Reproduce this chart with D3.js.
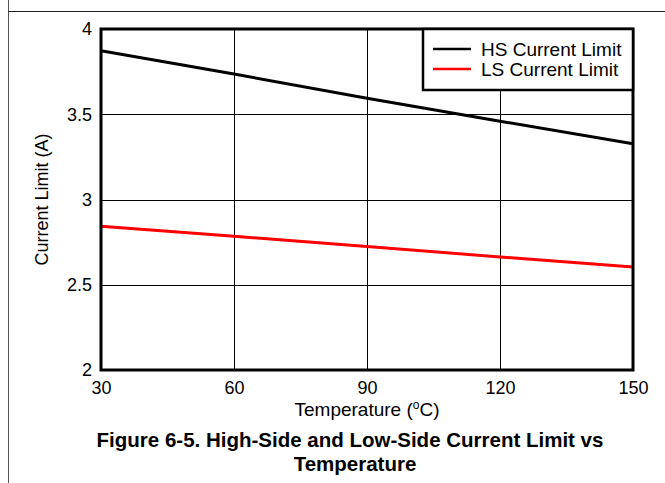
<!DOCTYPE html>
<html>
<head>
<meta charset="utf-8">
<script src="https://cdn.jsdelivr.net/npm/d3@7"></script>
<style>
  body { margin: 0; background: #fff; }
  svg { display: block; font-family: "Liberation Sans", Arial, sans-serif; }
</style>
</head>
<body>
<svg id="chart" width="665" height="483"></svg>
<script>
// Values
const temperatures = [30, 60, 90, 120, 150];
const hsLimit = [3.873, 3.736, 3.594, 3.459, 3.327];
const lsLimit = [2.843, 2.784, 2.725, 2.663, 2.604];
const xTicks = [30, 60, 90, 120, 150];
const yTicks = [2, 2.5, 3, 3.5, 4];
const seriesNames = ['HS Current Limit', 'LS Current Limit'];
const seriesColours = ['#000000', '#ff0000'];

const svg = d3.select('#chart');
const margin = { left: 101, right: 32, top: 29, bottom: 113 };
const width = 665, height = 483;
const fontFamily = '"Liberation Sans", Arial, sans-serif';

const x = d3.scaleLinear().domain([30, 150]).range([margin.left, width - margin.right]);
const y = d3.scaleLinear().domain([2, 4]).range([height - margin.bottom, margin.top]);

// Page frame (figure box edges)
svg.append('line').attr('x1', 8.5).attr('x2', 8.5).attr('y1', 0).attr('y2', height)
  .attr('stroke', '#555').attr('stroke-width', 1);
svg.append('line').attr('x1', 8).attr('x2', width).attr('y1', 11.5).attr('y2', 11.5)
  .attr('stroke', '#222').attr('stroke-width', 1);

// Grid lines
const grid = svg.append('g');
grid.selectAll('.vg').data(xTicks).enter().append('line')
  .attr('x1', d => Math.round(x(d)) + 0.5).attr('x2', d => Math.round(x(d)) + 0.5)
  .attr('y1', y(2)).attr('y2', y(4))
  .attr('stroke', '#000').attr('stroke-width', 1);
grid.selectAll('.hg').data(yTicks).enter().append('line')
  .attr('x1', x(30)).attr('x2', x(150))
  .attr('y1', d => Math.round(y(d)) + 0.5).attr('y2', d => Math.round(y(d)) + 0.5)
  .attr('stroke', '#000').attr('stroke-width', 1);

// Axes (tick labels only, no tick marks)
const xAxis = svg.append('g')
  .attr('transform', `translate(0,${y(2) + 7})`)
  .call(d3.axisBottom(x).tickValues(xTicks).tickSize(0).tickPadding(4));
xAxis.select('.domain').remove();
xAxis.selectAll('text').attr('font-size', 18).attr('fill', '#000')
  .style('font-family', fontFamily);

const yAxis = svg.append('g')
  .attr('transform', `translate(${x(30) - 9},0)`)
  .call(d3.axisLeft(y).tickValues(yTicks).tickFormat(d3.format('')).tickSize(0).tickPadding(0));
yAxis.select('.domain').remove();
yAxis.selectAll('text').attr('font-size', 18).attr('fill', '#000')
  .style('font-family', fontFamily);

// Series lines
const line = d3.line().x((d, i) => x(temperatures[i])).y(d => y(d));
[hsLimit, lsLimit].forEach((vals, i) => {
  svg.append('path').datum(vals)
    .attr('d', line)
    .attr('fill', 'none')
    .attr('stroke', seriesColours[i])
    .attr('stroke-width', 3);
});

// Plot frame
svg.append('rect')
  .attr('x', x(30)).attr('y', y(4))
  .attr('width', x(150) - x(30)).attr('height', y(2) - y(4))
  .attr('fill', 'none').attr('stroke', '#000').attr('stroke-width', 3);

// Legend
const lg = svg.append('g').attr('transform', 'translate(423,29)');
lg.append('rect').attr('width', 210).attr('height', 61)
  .attr('fill', '#fff').attr('stroke', '#000').attr('stroke-width', 2.5);
seriesNames.forEach((name, i) => {
  const ly = 20 + i * 20;
  lg.append('line').attr('x1', 10).attr('x2', 48).attr('y1', ly).attr('y2', ly)
    .attr('stroke', seriesColours[i]).attr('stroke-width', 2.5);
  lg.append('text').attr('x', 58).attr('y', ly + 6.5)
    .attr('font-size', 19).attr('fill', '#000').text(name);
});

// Axis titles
const xt = svg.append('text')
  .attr('x', (x(30) + x(150)) / 2).attr('y', 416)
  .attr('text-anchor', 'middle').attr('font-size', 19);
xt.append('tspan').text('Temperature (');
xt.append('tspan').attr('font-size', 12).attr('dy', -7).text('o');
xt.append('tspan').attr('dy', 7).text('C)');

svg.append('text')
  .attr('transform', `translate(48,${(y(2) + y(4)) / 2}) rotate(-90)`)
  .attr('text-anchor', 'middle').attr('font-size', 18)
  .text('Current Limit (A)');

// Figure caption
const cap = svg.append('text').attr('text-anchor', 'middle')
  .attr('font-size', 20.5).attr('font-weight', 'bold');
cap.append('tspan').attr('x', 350).attr('y', 447)
  .text('Figure 6-5. High-Side and Low-Side Current Limit vs');
cap.append('tspan').attr('x', 355).attr('y', 471).text('Temperature');
</script>
</body>
</html>
